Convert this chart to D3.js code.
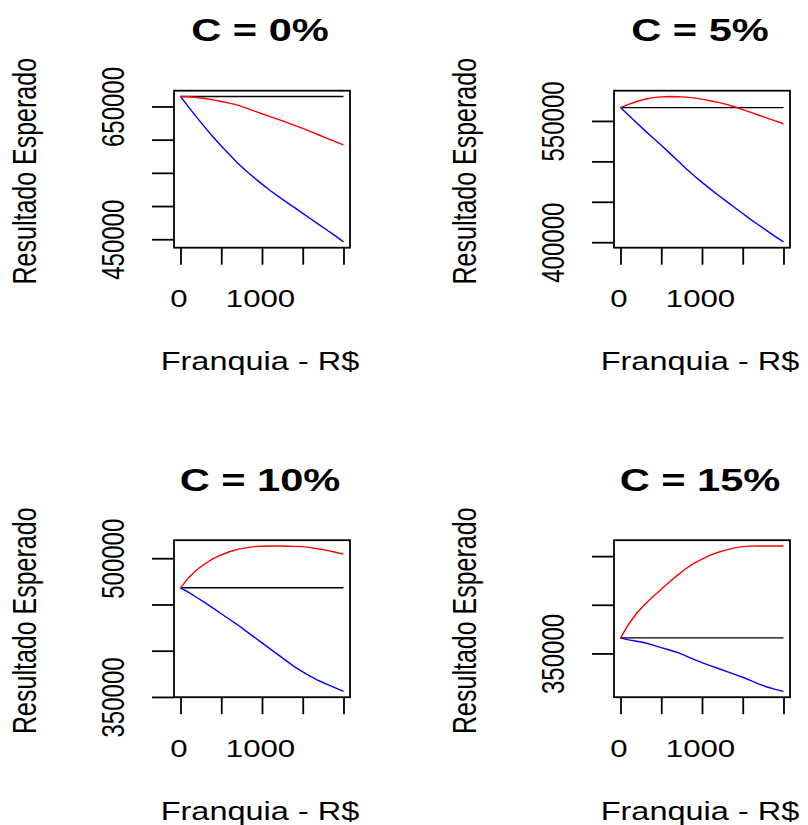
<!DOCTYPE html>
<html>
<head>
<meta charset="utf-8">
<script src="https://cdn.jsdelivr.net/npm/d3@7"></script>
<style>
  body { margin: 0; background: #fff; }
  text { font-family: "Liberation Sans", Arial, sans-serif; fill: #000; }
</style>
</head>
<body>
<script>
// franquia (R$) on the x axis
const franquia = [0, 100, 200, 300, 400, 500, 600, 700, 800, 900, 1000,
                  1100, 1200, 1300, 1400, 1500, 1600, 1700, 1800, 1900, 2000];

const titles = ["C = 0%", "C = 5%", "C = 10%", "C = 15%"];

// black line: resultado sem franquia
const base = [665000, 566500, 468000, 366000];

const red0  = [665000, 664600, 663500, 662000, 660000, 657500, 655000, 652000, 648000, 643500, 639000,
               634800, 630500, 626000, 621500, 617000, 612000, 607000, 602000, 597000, 592000];
const blue0 = [665000, 649000, 633500, 618500, 604000, 590500, 577500, 565000, 553500, 543000, 533000,
               523500, 514500, 506000, 497500, 489000, 480500, 472000, 463500, 455000, 446000];

const red5  = [566500, 570500, 574000, 576800, 578800, 579800, 580200, 580000, 579500, 578500, 577000,
               575000, 573000, 570500, 567500, 564000, 560500, 557000, 553500, 550000, 546500];
const blue5 = [566500, 557000, 547500, 538000, 529000, 520000, 510500, 501000, 491500, 482500, 474000,
               466000, 458000, 450500, 443000, 435500, 428000, 421000, 414000, 407000, 400400];

const red10  = [468000, 479000, 487500, 494000, 499500, 503500, 507000, 509500, 511200, 512500, 513000,
                513200, 513200, 513000, 512800, 512500, 511500, 510000, 508500, 506500, 504500];
const blue10 = [468000, 463000, 457500, 452000, 446000, 440000, 434000, 428000, 421500, 415000, 408500,
                402000, 395500, 389000, 382500, 377000, 372000, 367500, 363500, 359700, 356000];

const red15  = [366000, 380000, 391500, 400500, 408500, 416000, 423500, 430500, 437000, 442500, 447000,
                451000, 454000, 456500, 458500, 459800, 460300, 460400, 460400, 460400, 460400];
const blue15 = [366000, 364000, 362500, 361000, 358500, 356000, 353500, 351000, 347500, 344000, 340500,
                337500, 334500, 331500, 328500, 325500, 322000, 318500, 315500, 313000, 311000];

const xTicks = [0, 500, 1000, 1500, 2000];
const xTickLabels = ["0", "", "1000", "", ""];

const yTicks0 = [450000, 500000, 550000, 600000, 650000];
const yLabels0 = ["450000", "", "", "", "650000"];
const yTicks5 = [400000, 450000, 500000, 550000];
const yLabels5 = ["400000", "", "", "550000"];
const yTicks10 = [350000, 400000, 450000, 500000];
const yLabels10 = ["350000", "", "", "500000"];
const yTicks15 = [350000, 400000, 450000];
const yLabels15 = ["350000", "", ""];

const panels = [
  {title: titles[0], base: base[0], red: red0,  blue: blue0,  ticks: yTicks0,  labels: yLabels0},
  {title: titles[1], base: base[1], red: red5,  blue: blue5,  ticks: yTicks5,  labels: yLabels5},
  {title: titles[2], base: base[2], red: red10, blue: blue10, ticks: yTicks10, labels: yLabels10},
  {title: titles[3], base: base[3], red: red15, blue: blue15, ticks: yTicks15, labels: yLabels15}
];

const svg = d3.select("body").append("svg")
    .attr("width", 808)
    .attr("height", 825);

const boxW = 176, boxH = 157;
const sx = 1.3; // picture is stretched horizontally

// R style 4% padding
function padded(ext) {
  let d = (ext[1] - ext[0]) * 0.04;
  return [ext[0] - d, ext[1] + d];
}

panels.forEach(function(p, i) {
  let col = i % 2, row = Math.floor(i / 2);
  let left = 174 + col * 440;
  let top = 90.7 + row * 449.5;
  let g = svg.append("g").attr("transform", `translate(${left},${top})`);

  let x = d3.scaleLinear().domain(padded(d3.extent(franquia))).range([0, boxW]);
  let y = d3.scaleLinear()
      .domain(padded(d3.extent(p.red.concat(p.blue, [p.base]))))
      .range([boxH, 0]);

  let line = d3.line()
      .x(function(d, j) { return x(franquia[j]); })
      .y(function(d) { return y(d); });

  // horizontal line
  g.append("path")
      .datum(franquia.map(function() { return p.base; }))
      .attr("d", line)
      .attr("fill", "none")
      .attr("stroke", "#000")
      .attr("stroke-width", 1.4);

  g.append("path")
      .datum(p.blue)
      .attr("d", line)
      .attr("fill", "none")
      .attr("stroke", "#0000ff")
      .attr("stroke-width", 1.4);

  g.append("path")
      .datum(p.red)
      .attr("d", line)
      .attr("fill", "none")
      .attr("stroke", "#ff0000")
      .attr("stroke-width", 1.4);

  g.append("rect")
      .attr("width", boxW)
      .attr("height", boxH)
      .attr("fill", "none")
      .attr("stroke", "#000")
      .attr("stroke-width", 1.8);

  // x axis
  let xa = g.append("g")
      .attr("transform", `translate(0,${boxH})`)
      .call(d3.axisBottom(x)
          .tickValues(xTicks)
          .tickSize(17)
          .tickSizeOuter(0)
          .tickFormat(function(d, j) { return xTickLabels[j]; }));
  xa.select(".domain").remove();
  xa.selectAll("line").attr("stroke-width", 1.8);
  xa.selectAll("text")
      .attr("y", null)
      .attr("dy", null)
      .attr("transform", `translate(-2,59.5) scale(${sx},1)`)
      .attr("font-size", 24)
      .attr("font-family", null);

  // y axis
  let ya = g.append("g")
      .call(d3.axisLeft(y)
          .tickValues(p.ticks)
          .tickSize(22)
          .tickSizeOuter(0)
          .tickFormat(function(d, j) { return p.labels[j]; }));
  ya.select(".domain").remove();
  ya.selectAll("line").attr("stroke-width", 1.8);
  ya.selectAll("text")
      .attr("x", null)
      .attr("dy", null)
      .attr("text-anchor", "middle")
      .attr("transform", `translate(-50,0) scale(${sx},1) rotate(-90)`)
      .attr("font-size", 24)
      .attr("font-family", null);

  // title
  g.append("text")
      .attr("transform", `translate(${boxW / 2 - 2},${41 - 90.7}) scale(${sx},1)`)
      .attr("text-anchor", "middle")
      .attr("font-size", 32)
      .attr("font-weight", "bold")
      .text(p.title);

  // axis titles
  g.append("text")
      .attr("transform", `translate(${boxW / 2 - 2},${370 - 90.7}) scale(${sx},1)`)
      .attr("text-anchor", "middle")
      .attr("font-size", 25)
      .text("Franquia - R$");

  g.append("text")
      .attr("transform", `translate(${36 - 174},${boxH / 2 + 2}) scale(${sx},1) rotate(-90)`)
      .attr("text-anchor", "middle")
      .attr("font-size", 25)
      .text("Resultado Esperado");
});
</script>
</body>
</html>
